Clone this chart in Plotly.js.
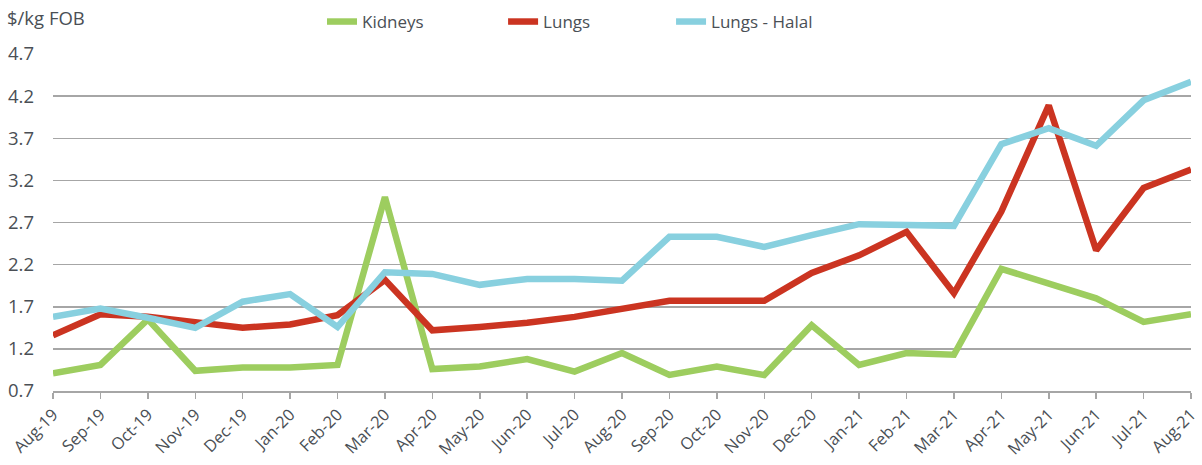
<!DOCTYPE html>
<html>
<head>
<meta charset="utf-8">
<script src="https://cdn.plot.ly/plotly-3.0.1.min.js"></script>
<style>html,body{margin:0;padding:0;background:#fff;}#chart{width:1202px;height:465px;}</style>
</head>
<body>
<div id="chart"></div>
<script>
const months = ["Aug-19","Sep-19","Oct-19","Nov-19","Dec-19","Jan-20","Feb-20","Mar-20","Apr-20","May-20","Jun-20","Jul-20","Aug-20","Sep-20","Oct-20","Nov-20","Dec-20","Jan-21","Feb-21","Mar-21","Apr-21","May-21","Jun-21","Jul-21","Aug-21"];
const kidneys = [0.91,1.01,1.55,0.94,0.98,0.98,1.01,3.00,0.96,0.99,1.08,0.93,1.15,0.89,0.99,0.89,1.48,1.01,1.15,1.13,2.15,1.98,1.80,1.52,1.61];
const lungs = [1.36,1.61,1.58,1.52,1.45,1.49,1.60,2.02,1.42,1.46,1.51,1.58,1.68,1.77,1.77,1.77,2.10,2.31,2.59,1.86,2.83,4.09,2.37,3.11,3.33];
const lungsHalal = [1.58,1.68,1.57,1.45,1.76,1.85,1.46,2.11,2.09,1.96,2.03,2.03,2.01,2.53,2.53,2.41,2.55,2.68,2.67,2.66,3.63,3.82,3.61,4.15,4.37];
const yTicks = [0.7,1.2,1.7,2.2,2.7,3.2,3.7,4.2,4.7];
const yUnit = "$/kg FOB";

const FONT = "'Open Sans', sans-serif";
const TXT = "#4a4f55";
const mk = (name, y, color, lg) => ({
  type: "scatter", mode: "lines", name: name, x: months, y: y, legend: lg,
  line: {color: color, width: 6.5}
});
const data = [
  mk("Kidneys", kidneys, "#9dcd5f", "legend"),
  mk("Lungs", lungs, "#cb3421", "legend2"),
  mk("Lungs - Halal", lungsHalal, "#88d0df", "legend3")
];
const lg = (x) => ({orientation: "h", x: x, xanchor: "left", y: 1.095, yanchor: "middle",
  font: {family: FONT, size: 17, color: TXT}, bgcolor: "rgba(0,0,0,0)"});
const layout = {
  width: 1202, height: 465,
  margin: {l: 53, r: 11, t: 54, b: 74, autoexpand: false},
  paper_bgcolor: "#fff", plot_bgcolor: "#fff",
  font: {family: FONT, size: 16, color: TXT},
  showlegend: true,
  legend: lg(0.2364), legend2: lg(0.3955), legend3: lg(0.5431),
  xaxis: {
    type: "category", range: [0, 24], tickvals: months, ticktext: months,
    tickangle: -45, tickfont: {family: FONT, size: 16.5, color: TXT},
    showgrid: false, showline: true, linecolor: "#a6a6a6", linewidth: 1.5,
    ticks: "outside", ticklen: 6, tickcolor: "#a6a6a6", tickwidth: 1.5,
    zeroline: false, fixedrange: true
  },
  yaxis: {
    range: [0.7, 4.7], tickvals: yTicks, ticktext: yTicks.map(v => v.toFixed(1)),
    showgrid: true, gridcolor: "#a6a6a6", gridwidth: 1.5,
    showline: false, zeroline: false, ticks: "", ticklabelstandoff: 18,
    tickfont: {family: FONT, size: 18.5, color: TXT}, fixedrange: true
  },
  annotations: [{
    text: yUnit, xref: "paper", yref: "paper", x: -0.042, y: 1.107,
    xanchor: "left", yanchor: "middle", showarrow: false,
    font: {family: FONT, size: 18.5, color: TXT}
  }]
};
Plotly.newPlot("chart", data, layout, {displayModeBar: false, staticPlot: true});
</script>
</body>
</html>
